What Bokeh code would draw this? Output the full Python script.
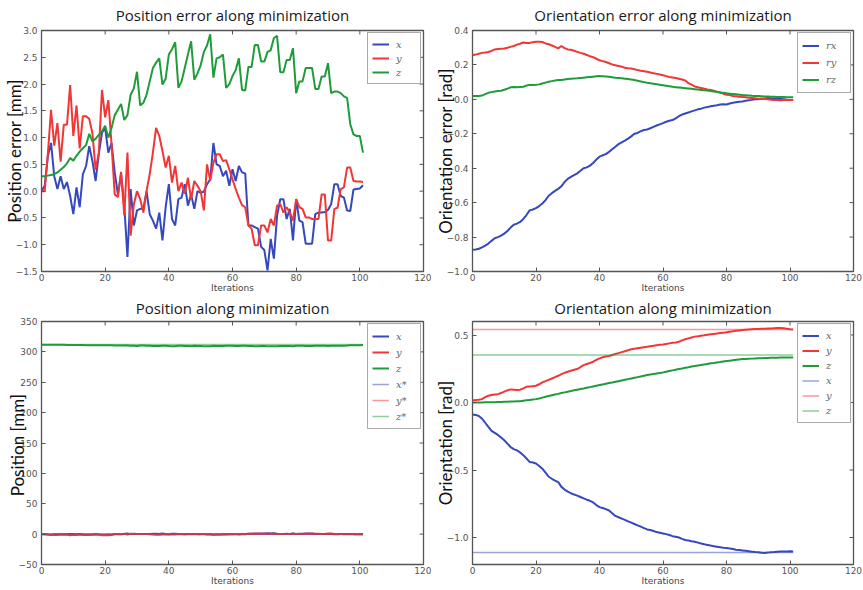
import math
from bokeh.plotting import figure
from bokeh.layouts import gridplot
from bokeh.models import Range1d, FixedTicker, CustomJSTickFormatter, Legend, LegendItem
from bokeh.embed import file_html
from bokeh.resources import INLINE

iterations = list(range(102))

# Position error [mm]
x_err = [0.00, 0.10, 0.65, 0.90, 0.28, 0.04, 0.28, 0.04, 0.17, -0.09,
         -0.43, 0.07, -0.30, 0.32, 0.47, 0.84, 0.56, 0.19, 0.69, 1.09,
         1.18, 0.72, 0.90, 0.35, -0.06, 0.32, -0.27, -1.23, 0.04, -0.64,
         -0.36, -0.33, -0.33, 0.00, -0.43, -0.55, -0.70, -0.40, -0.92, -0.30,
         0.13, -0.52, -0.64, -0.15, -0.12, 0.13, -0.27, -0.06, -0.33, 0.00,
         -0.03, -0.01, 0.13, 0.22, 0.90, 0.50, 0.47, 0.28, 0.38, 0.10,
         0.41, 0.19, 0.47, 0.35, 0.33, -0.64, -0.64, -0.67, -0.70, -1.04,
         -1.10, -1.48, -0.89, -1.26, -0.46, -0.15, -0.15, -0.52, -0.33, -0.92,
         -0.15, -0.55, -0.58, -0.98, -0.98, -0.98, -0.43, -0.40, -0.40, -0.39,
         -0.35, -0.24, 0.13, 0.13, -0.09, -0.12, -0.36, -0.37, 0.03, 0.04,
         0.05, 0.11]
y_err = [0.00, 0.00, 0.70, 1.52, 0.85, 1.27, 0.55, 1.24, 1.24, 1.98,
         1.03, 1.60, 0.80, 1.40, 1.40, 1.35, 1.08, 0.40, 0.72, 1.89,
         1.38, 1.70, 0.88, -0.06, -0.11, 0.36, -0.45, 0.72, -0.83, -0.25,
         0.00, -0.15, -0.40, 0.00, 0.32, 0.72, 1.18, 1.03, 0.75, 0.44,
         0.66, 0.16, 0.47, 0.00, 0.16, -0.05, 0.25, -0.15, 0.19, 0.10,
         0.00, -0.36, 0.50, 0.20, 0.53, 0.69, 0.69, 0.56, 0.58, 0.41,
         0.22, 0.04, -0.12, -0.26, -0.30, -0.64, -0.70, -1.01, -1.01, -0.64,
         -0.64, -0.77, -0.52, -0.64, -0.27, -0.24, -0.40, -0.30, -0.40, -0.55,
         -0.15, -0.30, -0.33, -0.49, -0.49, -0.52, -0.52, -0.52, -0.06, -0.06,
         -0.92, -0.92, -0.33, -0.31, 0.04, 0.07, 0.44, 0.44, 0.19, 0.18,
         0.18, 0.17]
z_err = [0.28, 0.28, 0.29, 0.30, 0.32, 0.35, 0.40, 0.45, 0.52, 0.62,
         0.57, 0.66, 0.74, 0.80, 0.86, 1.07, 0.93, 0.98, 1.05, 1.12,
         1.22, 1.00, 1.18, 1.42, 1.52, 1.63, 1.33, 1.42, 1.80, 1.92,
         2.23, 1.60, 1.65, 1.80, 2.05, 2.30, 2.40, 2.48, 1.99, 2.10,
         2.55, 2.65, 2.78, 1.93, 2.05, 2.30, 2.55, 2.80, 2.08, 2.20,
         2.35, 2.60, 2.72, 2.93, 2.12, 2.48, 2.50, 2.55, 1.93, 2.00,
         2.15, 2.26, 2.48, 1.89, 1.88, 2.32, 2.32, 2.73, 2.73, 2.42,
         2.42, 2.60, 2.63, 2.86, 2.90, 2.22, 2.22, 2.45, 2.45, 2.67,
         1.83, 2.05, 2.05, 2.30, 2.30, 2.30, 1.91, 1.91, 2.14, 2.14,
         2.39, 1.83, 1.86, 1.86, 1.83, 1.77, 1.74, 1.25, 1.06, 1.03,
         1.03, 0.72]

# Orientation error [rad]
rx_err = [-0.873, -0.872, -0.868, -0.860, -0.850, -0.838, -0.822, -0.807, -0.800, -0.792,
          -0.780, -0.765, -0.745, -0.728, -0.722, -0.712, -0.695, -0.672, -0.645, -0.640,
          -0.632, -0.620, -0.605, -0.585, -0.560, -0.545, -0.532, -0.520, -0.505, -0.480,
          -0.462, -0.450, -0.440, -0.430, -0.415, -0.400, -0.395, -0.385, -0.370, -0.350,
          -0.333, -0.325, -0.318, -0.305, -0.290, -0.275, -0.260, -0.250, -0.240, -0.228,
          -0.215, -0.200, -0.195, -0.185, -0.178, -0.175, -0.168, -0.160, -0.152, -0.145,
          -0.138, -0.130, -0.124, -0.120, -0.110, -0.098, -0.088, -0.082, -0.076, -0.070,
          -0.064, -0.058, -0.054, -0.048, -0.045, -0.040, -0.037, -0.034, -0.030, -0.028,
          -0.030, -0.024, -0.020, -0.017, -0.014, -0.012, -0.008, -0.005, -0.003, 0.000,
          0.000, 0.003, 0.005, 0.008, 0.006, 0.005, 0.004, 0.002, 0.000, -0.002,
          -0.003, -0.004]
ry_err = [0.256, 0.260, 0.265, 0.270, 0.272, 0.275, 0.282, 0.290, 0.292, 0.294,
          0.296, 0.300, 0.305, 0.310, 0.318, 0.323, 0.330, 0.328, 0.328, 0.332,
          0.334, 0.334, 0.333, 0.325, 0.320, 0.313, 0.305, 0.296, 0.310, 0.298,
          0.290, 0.288, 0.282, 0.276, 0.270, 0.265, 0.258, 0.250, 0.245, 0.236,
          0.227, 0.222, 0.217, 0.210, 0.203, 0.198, 0.194, 0.190, 0.184, 0.181,
          0.179, 0.175, 0.170, 0.166, 0.163, 0.160, 0.156, 0.152, 0.148, 0.144,
          0.140, 0.135, 0.130, 0.127, 0.124, 0.120, 0.115, 0.110, 0.094, 0.085,
          0.075, 0.070, 0.066, 0.062, 0.058, 0.055, 0.050, 0.045, 0.040, 0.033,
          0.027, 0.025, 0.020, 0.018, 0.015, 0.013, 0.012, 0.010, 0.008, 0.006,
          0.004, 0.003, 0.002, 0.000, -0.002, -0.004, -0.004, -0.005, -0.004, -0.004,
          -0.004, -0.004]
rz_err = [0.019, 0.020, 0.020, 0.022, 0.030, 0.038, 0.042, 0.046, 0.048, 0.050,
          0.056, 0.062, 0.070, 0.072, 0.071, 0.072, 0.073, 0.080, 0.084, 0.084,
          0.085, 0.087, 0.092, 0.097, 0.102, 0.106, 0.110, 0.112, 0.113, 0.116,
          0.118, 0.120, 0.121, 0.122, 0.124, 0.126, 0.128, 0.130, 0.132, 0.134,
          0.135, 0.134, 0.133, 0.131, 0.128, 0.125, 0.124, 0.122, 0.120, 0.118,
          0.115, 0.112, 0.108, 0.104, 0.100, 0.096, 0.094, 0.091, 0.088, 0.085,
          0.082, 0.079, 0.076, 0.073, 0.071, 0.069, 0.067, 0.065, 0.063, 0.061,
          0.059, 0.057, 0.055, 0.053, 0.051, 0.049, 0.046, 0.043, 0.040, 0.038,
          0.035, 0.033, 0.031, 0.029, 0.027, 0.025, 0.024, 0.023, 0.021, 0.020,
          0.019, 0.018, 0.017, 0.016, 0.015, 0.015, 0.014, 0.013, 0.013, 0.012,
          0.012, 0.012]

# Position [mm]
pos_x = [0.0, -0.1, -0.7, -0.9, -0.3, 0.0, -0.3, 0.0, -0.2, 0.1,
         0.4, -0.1, 0.3, -0.3, -0.5, -0.8, -0.6, -0.2, -0.7, -1.1,
         -1.2, -0.7, -0.9, -0.4, 0.1, -0.3, 0.3, 1.2, 0.0, 0.6,
         0.4, 0.3, 0.3, 0.0, 0.4, 0.6, 0.7, 0.4, 0.9, 0.3,
         -0.1, 0.5, 0.6, 0.2, 0.1, -0.1, 0.3, 0.1, 0.3, 0.0,
         0.0, 0.0, -0.1, -0.2, -0.9, -0.5, -0.5, -0.3, -0.4, -0.1,
         -0.4, -0.2, -0.5, -0.4, -0.3, 0.6, 0.6, 0.7, 0.7, 1.0,
         1.1, 1.5, 0.9, 1.3, 0.5, 0.2, 0.2, 0.5, 0.3, 0.9,
         0.2, 0.6, 0.6, 1.0, 1.0, 1.0, 0.4, 0.4, 0.4, 0.4,
         0.4, 0.2, -0.1, -0.1, 0.1, 0.1, 0.4, 0.4, 0.0, 0.0,
         -0.1, -0.1]
pos_y = [0.0, 0.0, -0.7, -1.5, -0.9, -1.3, -0.6, -1.2, -1.2, -2.0,
         -1.0, -1.6, -0.8, -1.4, -1.4, -1.4, -1.1, -0.4, -0.7, -1.9,
         -1.4, -1.7, -0.9, 0.1, 0.1, -0.4, 0.5, -0.7, 0.8, 0.3,
         0.0, 0.2, 0.4, 0.0, -0.3, -0.7, -1.2, -1.0, -0.8, -0.4,
         -0.7, -0.2, -0.5, 0.0, -0.2, 0.1, -0.3, 0.2, -0.2, -0.1,
         0.0, 0.4, -0.5, -0.2, -0.5, -0.7, -0.7, -0.6, -0.6, -0.4,
         -0.2, 0.0, 0.1, 0.3, 0.3, 0.6, 0.7, 1.0, 1.0, 0.6,
         0.6, 0.8, 0.5, 0.6, 0.3, 0.2, 0.4, 0.3, 0.4, 0.6,
         0.2, 0.3, 0.3, 0.5, 0.5, 0.5, 0.5, 0.5, 0.1, 0.1,
         0.9, 0.9, 0.3, 0.3, 0.0, -0.1, -0.4, -0.4, -0.2, -0.2,
         -0.2, -0.2]
pos_z = [311.7, 311.7, 311.7, 311.7, 311.7, 311.7, 311.6, 311.6, 311.5, 311.4,
         311.4, 311.3, 311.3, 311.2, 311.1, 310.9, 311.1, 311.0, 311.0, 310.9,
         310.8, 311.0, 310.8, 310.6, 310.5, 310.4, 310.7, 310.6, 310.2, 310.1,
         309.8, 310.4, 310.4, 310.2, 310.0, 309.7, 309.6, 309.5, 310.0, 309.9,
         309.5, 309.4, 309.2, 310.1, 310.0, 309.7, 309.5, 309.2, 309.9, 309.8,
         309.7, 309.4, 309.3, 309.1, 309.9, 309.5, 309.5, 309.5, 310.1, 310.0,
         309.9, 309.7, 309.5, 310.1, 310.1, 309.7, 309.7, 309.3, 309.3, 309.6,
         309.6, 309.4, 309.4, 309.1, 309.1, 309.8, 309.8, 309.6, 309.6, 309.3,
         310.2, 310.0, 310.0, 309.7, 309.7, 309.7, 310.1, 310.1, 309.9, 309.9,
         309.6, 310.2, 310.1, 310.1, 310.2, 310.2, 310.3, 310.8, 310.9, 311.0,
         311.0, 311.3]
pos_target = [0.0, 0.0, 312.0]  # x*, y*, z*

# Orientation [rad]
ori_x = [-0.089, -0.092, -0.100, -0.120, -0.150, -0.180, -0.210, -0.225, -0.240, -0.260,
         -0.280, -0.305, -0.330, -0.345, -0.355, -0.370, -0.390, -0.415, -0.440, -0.445,
         -0.452, -0.470, -0.490, -0.520, -0.550, -0.565, -0.578, -0.590, -0.625, -0.645,
         -0.660, -0.672, -0.682, -0.690, -0.700, -0.710, -0.720, -0.728, -0.740, -0.760,
         -0.775, -0.782, -0.790, -0.800, -0.820, -0.840, -0.850, -0.860, -0.870, -0.880,
         -0.890, -0.900, -0.910, -0.920, -0.930, -0.940, -0.945, -0.952, -0.960, -0.965,
         -0.970, -0.975, -0.982, -0.990, -0.995, -1.000, -1.010, -1.018, -1.022, -1.028,
         -1.032, -1.038, -1.044, -1.050, -1.055, -1.060, -1.064, -1.068, -1.072, -1.076,
         -1.078, -1.082, -1.086, -1.090, -1.093, -1.096, -1.099, -1.102, -1.105, -1.108,
         -1.110, -1.113, -1.114, -1.112, -1.109, -1.108, -1.106, -1.104, -1.103, -1.103,
         -1.102, -1.103]
ori_y = [0.017, 0.018, 0.020, 0.025, 0.040, 0.050, 0.055, 0.060, 0.062, 0.070,
         0.080, 0.090, 0.097, 0.095, 0.093, 0.095, 0.105, 0.116, 0.118, 0.120,
         0.124, 0.135, 0.149, 0.158, 0.168, 0.178, 0.188, 0.198, 0.210, 0.220,
         0.228, 0.235, 0.242, 0.248, 0.262, 0.277, 0.285, 0.293, 0.302, 0.315,
         0.327, 0.335, 0.340, 0.344, 0.352, 0.359, 0.366, 0.373, 0.380, 0.387,
         0.394, 0.398, 0.402, 0.406, 0.410, 0.413, 0.417, 0.420, 0.424, 0.427,
         0.430, 0.434, 0.438, 0.442, 0.445, 0.450, 0.460, 0.468, 0.475, 0.482,
         0.488, 0.491, 0.495, 0.498, 0.502, 0.505, 0.508, 0.511, 0.514, 0.517,
         0.520, 0.524, 0.528, 0.531, 0.534, 0.537, 0.539, 0.541, 0.543, 0.544,
         0.545, 0.546, 0.547, 0.548, 0.549, 0.550, 0.551, 0.552, 0.550, 0.546,
         0.542, 0.540]
ori_z = [0.000, 0.000, 0.000, 0.000, 0.001, 0.001, 0.002, 0.002, 0.003, 0.004,
         0.005, 0.006, 0.007, 0.008, 0.009, 0.010, 0.013, 0.016, 0.019, 0.022,
         0.025, 0.030, 0.036, 0.042, 0.048, 0.054, 0.059, 0.064, 0.070, 0.075,
         0.080, 0.085, 0.090, 0.095, 0.100, 0.104, 0.109, 0.114, 0.119, 0.124,
         0.129, 0.134, 0.139, 0.144, 0.148, 0.153, 0.158, 0.163, 0.168, 0.173,
         0.178, 0.183, 0.188, 0.193, 0.198, 0.203, 0.207, 0.211, 0.215, 0.219,
         0.223, 0.228, 0.233, 0.238, 0.243, 0.248, 0.252, 0.257, 0.261, 0.266,
         0.270, 0.274, 0.278, 0.282, 0.286, 0.290, 0.293, 0.297, 0.300, 0.304,
         0.307, 0.310, 0.313, 0.316, 0.319, 0.322, 0.323, 0.324, 0.325, 0.326,
         0.327, 0.328, 0.329, 0.330, 0.331, 0.332, 0.332, 0.333, 0.333, 0.334,
         0.334, 0.334]
ori_target = [-1.111, 0.540, 0.351]  # x*, y*, z*

x_ticks = [0, 20, 40, 60, 80, 100, 120]
BLUE, RED, GREEN = "#3548bd", "#f23535", "#1f9c3a"
TICK_COLOR = "#555555"
X_RANGE = (0, 120)


def minus_fmt(decimals):
    return CustomJSTickFormatter(
        code="return tick.toFixed(%d).replace('-', '\\u2212');" % decimals)


def make_fig(title, ylabel, yr, yticks, ydec, width, left, right, top, bottom, t_standoff):
    p = figure(width=width, height=295, output_backend="svg", toolbar_location=None,
               x_range=Range1d(*X_RANGE), y_range=Range1d(*yr),
               min_border_left=left, min_border_right=right,
               min_border_top=top, min_border_bottom=bottom)
    p.title.text = title
    p.title.align = "center"
    p.title.vertical_align = "top"
    p.title.text_font = "Open Sans"
    p.title.text_font_size = "15px"
    p.title.text_font_style = "normal"
    p.title.text_color = "#1a1a1a"
    p.title.standoff = t_standoff
    p.xgrid.visible = False
    p.ygrid.visible = False
    p.outline_line_color = "#555555"
    p.outline_line_width = 1.3
    p.background_fill_color = "white"
    p.border_fill_color = "white"

    xa = p.xaxis[0]
    xa.ticker = FixedTicker(ticks=x_ticks)
    xa.formatter = minus_fmt(0)
    xa.axis_label = "Iterations"
    xa.axis_label_text_font = "DejaVu Sans"
    xa.axis_label_text_font_size = "9px"
    xa.axis_label_text_font_style = "normal"
    xa.axis_label_text_color = "#444444"
    xa.axis_label_standoff = -1
    xa.major_label_standoff = 2
    ya = p.yaxis[0]
    ya.ticker = FixedTicker(ticks=yticks)
    ya.formatter = minus_fmt(ydec)
    ya.axis_label = ylabel
    ya.axis_label_text_font = "Lato"
    ya.axis_label_text_font_size = "17px"
    ya.axis_label_text_font_style = "normal"
    ya.axis_label_text_color = "#111111"
    ya.axis_label_standoff = -12
    ya.major_label_standoff = 4
    for ax in (xa, ya):
        ax.axis_line_color = None
        ax.major_tick_in = 4
        ax.major_tick_out = 0
        ax.major_tick_line_color = TICK_COLOR
        ax.minor_tick_line_color = None
        ax.major_label_text_font = "DejaVu Sans"
        ax.major_label_text_font_size = "9px"
        ax.major_label_text_color = TICK_COLOR

    # mirrored inward ticks on the right and top frame edges
    p.scatter([X_RANGE[1]] * len(yticks), yticks, marker="dash", size=8,
              line_color=TICK_COLOR, line_width=1)
    p.scatter(x_ticks, [yr[1]] * len(x_ticks), marker="dash", size=8, angle=math.pi / 2,
              line_color=TICK_COLOR, line_width=1)
    return p


def add_legend(p, entries, item_h):
    items = [LegendItem(label=lab, renderers=[r]) for lab, r in entries]
    lg = Legend(items=items, location="top_right", margin=2, padding=4, spacing=0,
                glyph_width=17, glyph_height=item_h, label_height=item_h,
                label_standoff=7, label_text_font="DejaVu Serif",
                label_text_font_style="italic", label_text_font_size="10px",
                label_text_color="#666666", border_line_color="#555555",
                border_line_width=1.5, background_fill_alpha=1.0)
    p.add_layout(lg)


# Top-left: position error
p1 = make_fig("Position error along minimization", "Position error [mm]",
              (-1.5, 3.0), [-1.5, -1.0, -0.5, 0.0, 0.5, 1.0, 1.5, 2.0, 2.5, 3.0], 1,
              431, 41, 8, 30, 22, 7)
r1 = p1.line(iterations, x_err, color=BLUE, line_width=2)
r2 = p1.line(iterations, y_err, color=RED, line_width=2)
r3 = p1.line(iterations, z_err, color=GREEN, line_width=2)
add_legend(p1, [("x", r1), ("y", r2), ("z", r3)], 14)

# Top-right: orientation error
p2 = make_fig("Orientation error along minimization", "Orientation error [rad]",
              (-1.0, 0.4), [-1.0, -0.8, -0.6, -0.4, -0.2, 0.0, 0.2, 0.4], 1,
              432, 40, 10, 30, 22, 7)
r1 = p2.line(iterations, rx_err, color=BLUE, line_width=2)
r2 = p2.line(iterations, ry_err, color=RED, line_width=2)
r3 = p2.line(iterations, rz_err, color=GREEN, line_width=2)
add_legend(p2, [("rx", r1), ("ry", r2), ("rz", r3)], 17)

# Bottom-left: position
p3 = make_fig("Position along minimization", "Position  [mm]",
              (-50, 350), [-50, 0, 50, 100, 150, 200, 250, 300, 350], 0,
              431, 41, 8, 26, 26, 3)
r1 = p3.line(iterations, pos_x, color=BLUE, line_width=2)
r2 = p3.line(iterations, pos_y, color=RED, line_width=2)
r3 = p3.line(iterations, pos_z, color=GREEN, line_width=2)
ends = [iterations[0], iterations[-1]]
tr = [p3.line(ends, [t, t], color=c, line_width=1.5, alpha=0.5)
      for t, c in zip(pos_target, (BLUE, RED, GREEN))]
add_legend(p3, [("x", r1), ("y", r2), ("z", r3),
                ("x*", tr[0]), ("y*", tr[1]), ("z*", tr[2])], 16)

# Bottom-right: orientation
p4 = make_fig("Orientation along minimization", "Orientation [rad]",
              (-1.2, 0.6), [-1.0, -0.5, 0.0, 0.5], 1,
              432, 40, 10, 26, 26, 3)
r1 = p4.line(iterations, ori_x, color=BLUE, line_width=2)
r2 = p4.line(iterations, ori_y, color=RED, line_width=2)
r3 = p4.line(iterations, ori_z, color=GREEN, line_width=2)
tr = [p4.line(ends, [t, t], color=c, line_width=1.5, alpha=0.5)
      for t, c in zip(ori_target, (BLUE, RED, GREEN))]
add_legend(p4, [("x", r1), ("y", r2), ("z", r3),
                ("x", tr[0]), ("y", tr[1]), ("z", tr[2])], 15)

grid = gridplot([[p1, p2], [p3, p4]], toolbar_location=None)

open("out.html", "w").write(file_html(grid, INLINE))
